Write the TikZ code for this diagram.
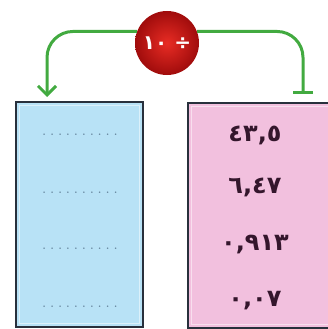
\documentclass[tikz,border=0pt]{standalone}
\usepackage{fontspec}
\TeXXeTstate=1
\newfontfamily\arabicfont[Script=Arabic]{DejaVu Sans}
\usetikzlibrary{arrows.meta,calc}
\definecolor{BlueClr}{RGB}{184,226,246}
\definecolor{PinkClr}{RGB}{242,192,222}
\definecolor{EdgeClr}{RGB}{40,48,60}
\definecolor{FlowClr}{RGB}{66,170,64}
\definecolor{NumClr}{RGB}{52,22,44}
\definecolor{DotClr}{RGB}{100,132,155}
\definecolor{OpDark}{RGB}{160,12,12}
\definecolor{OpLight}{RGB}{232,44,36}
\newcommand\blankdots{\makebox[80pt]{\xleaders\hbox to 7.3pt{\hss.\hss}\hfill}}

\begin{document}
\begin{tikzpicture}[x=1pt,y=-1pt,
  box/.style={draw=EdgeClr,line width=1.5pt,minimum width=127pt,minimum height=225pt,inner sep=0pt},
  flow/.style={draw=FlowClr,line width=3pt,rounded corners=26pt},
  num/.style={font=\arabicfont\bfseries\fontsize{24}{27}\selectfont,text=NumClr},
  blank/.style={text=DotClr,font=\bfseries\normalsize}]
\useasboundingbox (0,0) rectangle (327,329);

% the two columns
\node[box,fill=BlueClr] (src) at (79.5,214.5) {};
\node[box,fill=PinkClr,minimum width=146pt,anchor=north west] (dst) at (187,102) {};
\draw[white,opacity=.5,line width=1pt] ([shift={(4pt,4pt)}]src.south west) rectangle ([shift={(-4pt,-4pt)}]src.north east);
\draw[white,opacity=.5,line width=1pt] ([shift={(4pt,4pt)}]dst.south west) rectangle ([shift={(-4pt,-4pt)}]dst.north east);

% operation
\node[circle,minimum size=64pt,inner sep=0pt,inner color=OpLight,outer color=OpDark,
      text=white,font=\arabicfont\bfseries\fontsize{20}{22}\selectfont] (op) at (167,43) {\beginR ÷ ١٠\endR};

\coordinate (lt) at (47,97);
\coordinate (rt) at (303,94);
\draw[flow,-{Bar[width=20pt]}] (op.21) -| (rt);
\draw[flow,-{Straight Barb[length=9pt,width=18pt]}] (op.159) -| (lt);

% values
\node[num] (n1) at (255,135) {٤٣,٥};
\node[num] (n2) at (255,187) {٦,٤٧};
\node[num] (n3) at (255,245) {٠,٩١٣};
\node[num] (n4) at (255,301) {٠,٠٧};

\foreach \y [count=\i] in {135,193,249,307}
  \node[blank] (b\i) at (80,\y) {\blankdots};

\end{tikzpicture}
\end{document}
